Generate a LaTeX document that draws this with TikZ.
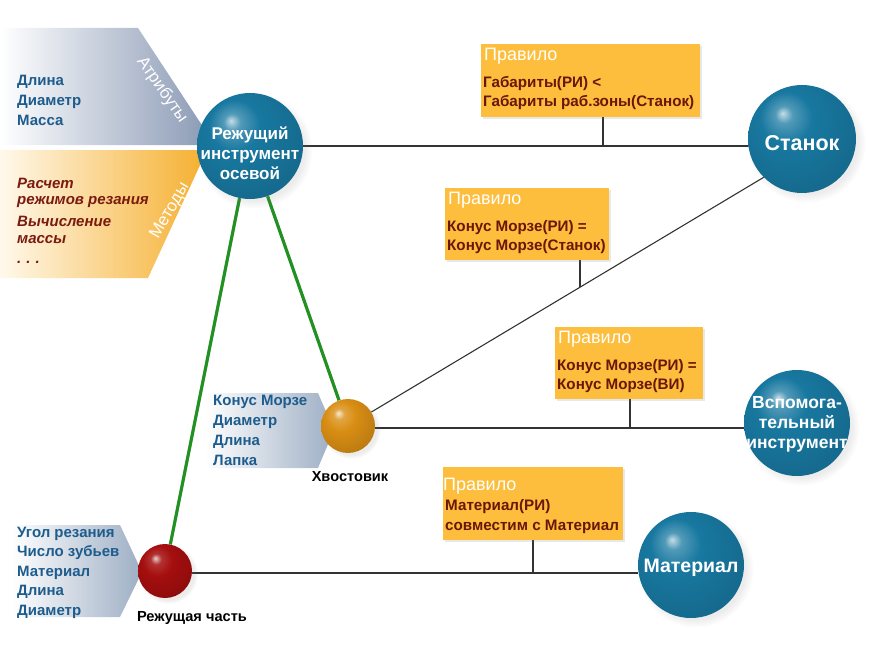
\documentclass[tikz,border=0pt]{standalone}
\usepackage{fontspec}
\setmainfont{Liberation Sans}
\usetikzlibrary{calc,shadows}
\pgfdeclarelayer{background}
\pgfsetlayers{background,main}
\definecolor{sb}{HTML}{1878A0}
\definecolor{so}{HTML}{D98E14}
\definecolor{sr}{HTML}{A50E0E}
\definecolor{attrblue}{HTML}{1D5C8C}
\definecolor{methred}{HTML}{7A1A10}
\definecolor{rulefill}{HTML}{FCBE3C}
\definecolor{ruletext}{HTML}{6A1608}
\definecolor{attrgray}{HTML}{8797B3}
\definecolor{methorange}{HTML}{F5AF2E}
\definecolor{methlight}{HTML}{FFF9EC}
\definecolor{panelgray}{HTML}{9DAEC4}
\definecolor{greenlink}{HTML}{229022}
\pgfdeclareradialshading{bluesphere}{\pgfpoint{-9bp}{12bp}}{%
  color(0bp)=(white!75!sb); color(4bp)=(white!25!sb); color(12bp)=(sb);
  color(32bp)=(sb!88!black); color(50bp)=(sb!55!black); color(64bp)=(sb!45!black)}
\pgfdeclareradialshading{orangesphere}{\pgfpoint{-9bp}{12bp}}{%
  color(0bp)=(white!80!so); color(5bp)=(white!20!so); color(14bp)=(so);
  color(34bp)=(so!85!black); color(52bp)=(so!55!black); color(64bp)=(so!45!black)}
\pgfdeclareradialshading{redsphere}{\pgfpoint{-9bp}{12bp}}{%
  color(0bp)=(white!80!sr); color(5bp)=(white!15!sr); color(14bp)=(sr);
  color(34bp)=(sr!85!black); color(52bp)=(sr!55!black); color(64bp)=(sr!45!black)}
\begin{document}
\begin{tikzpicture}[x=1pt,y=-1pt,
  bigball/.style={circle, minimum size=#1, inner sep=0pt, shading=bluesphere,
     circular drop shadow={shadow xshift=4pt,shadow yshift=-4pt,opacity=0.15}},
  smallball/.style={circle, minimum size=54, inner sep=0pt, shading=#1,
     circular drop shadow={shadow xshift=3pt,shadow yshift=-3pt,opacity=0.15}},
  balltext/.style={inner sep=0pt, text=white, align=center, font=\bfseries\fontsize{17}{20}\selectfont},
  rulebox/.style={rectangle, fill=rulefill, inner sep=0pt, anchor=north west,
     drop shadow={shadow xshift=2pt,shadow yshift=-2pt,opacity=0.18}},
  ruletxt/.style={anchor=north west, inner sep=0pt, align=left, text=ruletext,
     font=\bfseries\fontsize{15.2}{19}\selectfont},
  rulehead/.style={anchor=north west, inner sep=0pt, text=white, font=\fontsize{18}{20}\selectfont},
  attrlist/.style={anchor=north west, inner sep=0pt, align=left, text=attrblue,
     font=\bfseries\fontsize{15}{20}\selectfont},
  methlist/.style={anchor=north west, inner sep=0pt, align=left, text=methred,
     font=\bfseries\itshape\fontsize{15}{16.8}\selectfont},
  plainlabel/.style={inner sep=0pt, text=black, font=\bfseries\fontsize{14.6}{16}\selectfont},
  paneltitle/.style={inner sep=0pt, text=white, font=\fontsize{17}{19}\selectfont},
  wire/.style={draw=black!80, line width=1.1pt},
  greenwire/.style={draw=greenlink, line width=3.2pt},
]
\useasboundingbox (0,0) rectangle (875,650);

% --- side panels
\shade[left color=white, middle color=attrgray!55, right color=attrgray] (0,28) -- (138,28) -- (215,145) -- (0,145) -- cycle;
\shade[left color=methlight, middle color=methorange!55!methlight, right color=methorange] (0,150) -- (207,150) -- (148,278) -- (0,278) -- cycle;
\shade[left color=white, right color=panelgray] (205,393) -- (318,393) -- (334,430) -- (318,468) -- (205,468) -- cycle;
\shade[left color=white, right color=panelgray] (12,525) -- (120,525) -- (142,572) -- (120,617) -- (12,617) -- cycle;

\node[paneltitle, rotate=-55] (attrtitle) at (162,90) {Атрибуты};
\node[paneltitle, rotate=60] (methtitle) at (170,211) {Методы};

\node[attrlist] (attrs) at (17,74.5) {Длина\\Диаметр\\Масса};
\node[methlist] (meths) at (17,177.5) {Расчет\\режимов резания\\[5pt]Вычисление\\массы\\[3.5pt].\,\,.\,\,.};
\node[attrlist] (hvattrs) at (213,394.5) {Конус Морзе\\Диаметр\\Длина\\Лапка};
\node[attrlist, font=\bfseries\fontsize{15}{19.5}\selectfont] (cutattrs) at (17,526.5) {Угол резания\\Число зубьев\\Материал\\Длина\\Диаметр};

% --- rule boxes
\node[rulebox, minimum width=219, minimum height=73] (rule1) at (481,44) {};
\node[rulehead] (rh1) at ($(rule1.north west)+(3,4)$) {Правило};
\node[ruletxt] (rt1) at ($(rule1.north west)+(2,32.5)$) {Габариты(РИ) <\\Габариты раб.зоны(Станок)};

\node[rulebox, minimum width=164, minimum height=72] (rule2) at (445,188) {};
\node[rulehead] (rh2) at ($(rule2.north west)+(3,4)$) {Правило};
\node[ruletxt] (rt2) at ($(rule2.north west)+(2,32)$) {Конус Морзе(РИ) =\\Конус Морзе(Станок)};

\node[rulebox, minimum width=148, minimum height=72] (rule3) at (555,327) {};
\node[rulehead] (rh3) at ($(rule3.north west)+(3,4)$) {Правило};
\node[ruletxt] (rt3) at ($(rule3.north west)+(2,32)$) {Конус Морзе(РИ) =\\Конус Морзе(ВИ)};

\node[rulebox, minimum width=180, minimum height=73] (rule4) at (443,467) {};
\node[rulehead] (rh4) at ($(rule4.north west)+(0,11)$) {Правило};
\node[ruletxt, font=\bfseries\fontsize{15.2}{20}\selectfont] (rt4) at ($(rule4.north west)+(2,32)$) {Материал(РИ)\\совместим с Материал};

% --- spheres
\node[bigball=106] (main) at (250,146) {};
\node[balltext] (maintext) at ($(main)+(0,7)$) {Режущий\\инструмент\\осевой};
\node[bigball=108] (stanok) at (802,139) {};
\node[balltext, font=\bfseries\fontsize{21.5}{23}\selectfont] (stanoktext) at ($(stanok)+(0,4)$) {Станок};
\node[bigball=106] (vsp) at (797,423) {};
\node[balltext, font=\bfseries\fontsize{17.5}{20}\selectfont] (vsptext) at ($(vsp)+(0,1)$) {Вспомога-\\тельный\\инструмент};
\node[bigball=106] (mat) at (691,565) {};
\node[balltext, font=\bfseries\fontsize{19.5}{21}\selectfont] (mattext) at ($(mat)+(0,3)$) {Материал};
\node[smallball=orangesphere] (hv) at (348,426) {};
\node[smallball=redsphere] (cut) at (165,571) {};

\node[plainlabel] (hvlabel) at (350,477) {Хвостовик};
\node[plainlabel] (cutlabel) at (192,618) {Режущая часть};

% --- connectors (behind spheres)
\begin{pgfonlayer}{background}
\draw[wire] (main.east) -- (main.east -| stanok.west);
\draw[wire] (hv) -- (stanok.south west);
\draw[wire] ($(hv.east)+(0,2)$) -- ($(hv.east -| vsp.west)+(0,2)$);
\draw[wire] ($(cut.east)+(0,2)$) -- ($(cut.east -| mat.west)+(0,2)$);
\draw[greenwire] (main) -- (cut);
\draw[greenwire] (main) -- (hv);
\coordinate (c1) at (603,146);
\coordinate (c2) at ($(hv)!0.558!(stanok.south west)$);
\coordinate (c3) at (630,428);
\coordinate (c4) at (533,573);
\draw[wire] (c1 |- rule1.south) -- (c1);
\draw[wire] (c2 |- rule2.south) -- (c2);
\draw[wire] (c3 |- rule3.south) -- (c3);
\draw[wire] (c4 |- rule4.south) -- (c4);
\end{pgfonlayer}
\end{tikzpicture}
\end{document}
